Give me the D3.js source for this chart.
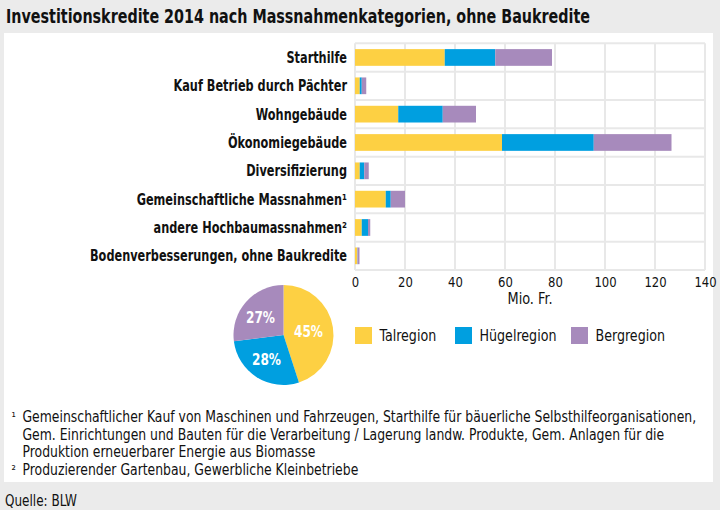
<!DOCTYPE html>
<html><head><meta charset="utf-8">
<script src="https://cdn.jsdelivr.net/npm/d3@7"></script>
<style>
html,body{margin:0;padding:0;background:#ebebeb;}
svg{display:block;}
text{font-family:"DejaVu Sans Condensed","DejaVu Sans",sans-serif;font-stretch:condensed;}
</style></head>
<body>
<svg id="chart" width="720" height="510"></svg>
<script>
const title = "Investitionskredite 2014 nach Massnahmenkategorien, ohne Baukredite";
const categories = ["Starthilfe","Kauf Betrieb durch Pächter","Wohngebäude","Ökonomiegebäude","Diversifizierung","Gemeinschaftliche Massnahmen¹","andere Hochbaumassnahmen²","Bodenverbesserungen, ohne Baukredite"];
const seriesNames = ["Talregion","Hügelregion","Bergregion"];
const talregion = [35.9, 1.9, 17.3, 58.8, 1.9, 12.3, 2.7, 0.9];
const huegelregion = [20.2, 0.8, 17.8, 36.7, 1.8, 2.0, 2.5, 0.1];
const bergregion = [22.7, 1.8, 13.3, 31.1, 1.8, 5.7, 0.9, 0.8];
const xTicks = [0,20,40,60,80,100,120,140];
const xAxisTitle = "Mio. Fr.";
const pieShares = [45, 28, 27];
const footnoteMarks = ["¹","","","²"];
const footnoteLines = [
  "Gemeinschaftlicher Kauf von Maschinen und Fahrzeugen, Starthilfe für bäuerliche Selbsthilfeorganisationen,",
  "Gem. Einrichtungen und Bauten für die Verarbeitung / Lagerung landw. Produkte, Gem. Anlagen für die",
  "Produktion erneuerbarer Energie aus Biomasse",
  "Produzierender Gartenbau, Gewerbliche Kleinbetriebe"
];
const source = "Quelle: BLW";
const colors = ["#fdd043","#009fe0","#a78abc"];

// horizontally condense a group of texts so that a reference text gets a target width
function squeeze(sel, refNode, target){
  const f = target / refNode.getComputedTextLength();
  sel.each(function(){
    const w = this.getComputedTextLength();
    d3.select(this).attr("textLength", w*f).attr("lengthAdjust","spacingAndGlyphs");
  });
}

const svg = d3.select("#chart");
svg.append("rect").attr("x",0).attr("y",0).attr("width",720).attr("height",510).attr("fill","#ebebeb");
svg.append("rect").attr("x",4).attr("y",33).attr("width",709).attr("height",449).attr("fill","#ffffff");

const tt = svg.append("text").attr("x",6).attr("y",22.5).attr("font-size",19).attr("font-weight","bold").attr("fill","#111").text(title);
squeeze(tt, tt.node(), 584);

const x = d3.scaleLinear().domain([0,140]).range([355,705]);
const y = d3.scaleBand().domain(categories).range([43.3,270]).paddingInner(0.41).paddingOuter(0.205);
const step = y.step();

const grid = svg.append("g");
grid.selectAll("line.v").data(xTicks).join("line")
  .attr("x1",d=>x(d)).attr("x2",d=>x(d)).attr("y1",43.3).attr("y2",270)
  .attr("stroke","#e8e8e8").attr("stroke-width",2);
const bounds = categories.map(c=>y(c)-step*y.paddingInner()/2).concat([270]);
grid.selectAll("line.h").data(bounds).join("line")
  .attr("x1",x(0)).attr("x2",x(140)).attr("y1",d=>d).attr("y2",d=>d)
  .attr("stroke","#e8e8e8").attr("stroke-width",2);

const table = categories.map((c,i)=>({cat:c, Talregion:talregion[i], "Hügelregion":huegelregion[i], Bergregion:bergregion[i]}));
const stacked = d3.stack().keys(seriesNames)(table);
svg.append("g").selectAll("g").data(stacked).join("g").attr("fill",(d,i)=>colors[i])
  .selectAll("rect").data(d=>d).join("rect")
  .attr("x",d=>x(d[0])).attr("width",d=>x(d[1])-x(d[0]))
  .attr("y",d=>y(d.data.cat)).attr("height",y.bandwidth());

const cl = svg.append("g").selectAll("text").data(categories).join("text")
  .attr("x",347).attr("y",d=>y(d)+y.bandwidth()/2).attr("dy","0.36em")
  .attr("text-anchor","end").attr("font-size",15.5).attr("font-weight","bold").attr("fill","#111").text(d=>d);
squeeze(cl, cl.nodes()[7], 257);

// legend
const legX = [355, 455, 571];
const leg = svg.append("g").selectAll("g").data(seriesNames).join("g")
  .attr("transform",(d,i)=>`translate(${legX[i]},327)`);
leg.append("rect").attr("width",17).attr("height",17).attr("fill",(d,i)=>colors[i]);
const lt = leg.append("text").attr("x",24.5).attr("y",8.5).attr("dy","0.36em").attr("font-size",16).attr("fill","#111").text(d=>d);
const legFactor = 56.7 / lt.nodes()[0].getComputedTextLength();
squeeze(lt, lt.nodes()[0], 56.7);

// x axis
const xAxis = d3.axisBottom(x).tickValues(xTicks).tickSize(0).tickPadding(0);
const ax = svg.append("g").attr("transform","translate(0,277.5)").call(xAxis);
ax.select(".domain").remove();
const tl = ax.selectAll("text").attr("font-size",14).attr("fill","#111")
  .attr("font-family",'"DejaVu Sans Condensed","DejaVu Sans",sans-serif').style("font-stretch","condensed");
tl.each(function(){ const w=this.getComputedTextLength(); d3.select(this).attr("textLength",w*legFactor*1.05).attr("lengthAdjust","spacingAndGlyphs"); });
const mt = svg.append("text").attr("x",(x(0)+x(140))/2).attr("y",303.5).attr("text-anchor","middle").attr("font-size",16).attr("fill","#111").text(xAxisTitle);
squeeze(mt, mt.node(), 45);

// pie
const pie = d3.pie().sort(null).value(d=>d)(pieShares);
const arc = d3.arc().innerRadius(0).outerRadius(50);
const pg = svg.append("g").attr("transform","translate(283.5,335)");
pg.selectAll("path").data(pie).join("path").attr("d",arc).attr("fill",(d,i)=>colors[i]);
const labelPos = [[25,-4],[-17,24],[-23,-18]];
const pt = pg.selectAll("text").data(pie).join("text")
  .attr("x",(d,i)=>labelPos[i][0]).attr("y",(d,i)=>labelPos[i][1]).attr("dy","0.36em")
  .attr("text-anchor","middle").attr("font-size",16).attr("font-weight","bold").attr("fill","#fff")
  .text(d=>d.data+"%");
squeeze(pt, pt.nodes()[0], 29);

// footnotes (condensed with a horizontal scale transform)
const fy = [421.5, 439.5, 457, 475];
svg.append("g").selectAll("text").data(footnoteMarks).join("text")
  .attr("x",11.5).attr("y",(d,i)=>fy[i]-1).attr("font-size",12).attr("fill","#111").text(d=>d);
const fg = svg.append("g").selectAll("g").data(footnoteLines).join("g");
const ft = fg.append("text").attr("x",0).attr("y",0).attr("font-size",16).attr("fill","#111").text(d=>d);
const fFactor = 674 / ft.nodes()[0].getComputedTextLength();
fg.attr("transform",(d,i)=>`translate(22.5,${fy[i]}) scale(${fFactor},1)`);

const st = svg.append("text").attr("x",5).attr("y",505.5).attr("font-size",16).attr("fill","#111").text(source);
squeeze(st, st.node(), 72);
</script>
</body></html>
